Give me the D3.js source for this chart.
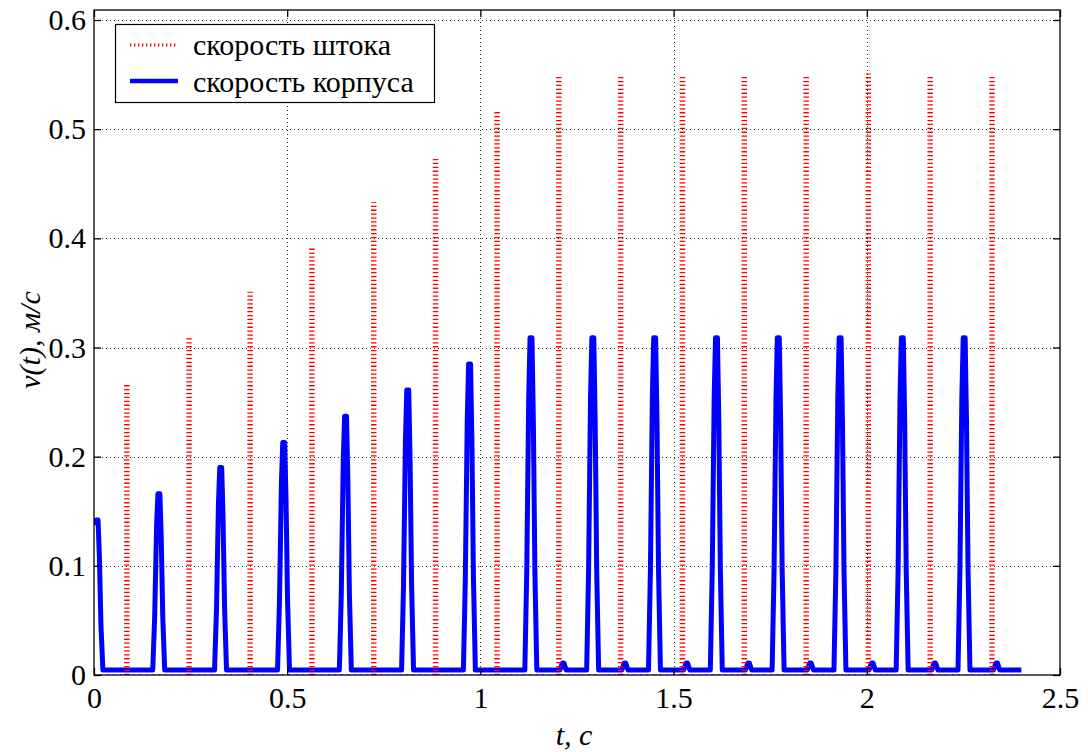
<!DOCTYPE html>
<html><head><meta charset="utf-8">
<script src="https://cdn.jsdelivr.net/npm/d3@7"></script>
<style>body{margin:0;background:#fff;} svg{display:block;} text{font-family:"Liberation Serif","Times New Roman",serif;}</style>
</head><body>
<svg id="chart" width="1088" height="752" font-family="Liberation Serif, serif"></svg>
<script>
// ---- data ----
const xTicks = [0, 0.5, 1, 1.5, 2, 2.5];
const xTickLabels = ["0", "0.5", "1", "1.5", "2", "2.5"];
const yTicks = [0, 0.1, 0.2, 0.3, 0.4, 0.5, 0.6];
const yTickLabels = ["0", "0.1", "0.2", "0.3", "0.4", "0.5", "0.6"];
const seriesNames = ["скорость штока", "скорость корпуса"];
// rod velocity spikes (red dotted)
const rodSpikeT = [0.085, 0.246, 0.404, 0.564, 0.724, 0.884, 1.043, 1.203, 1.363, 1.523, 1.683, 1.843, 2.004, 2.164, 2.324];
const rodSpikeV = [0.268, 0.309, 0.351, 0.392, 0.433, 0.474, 0.517, 0.550, 0.550, 0.550, 0.550, 0.550, 0.551, 0.550, 0.550];
const rodBase = 0;
// body velocity pulses (blue solid)
const bodyPulseT = [0.008, 0.168, 0.328, 0.491, 0.651, 0.812, 0.972, 1.131, 1.291, 1.451, 1.611, 1.771, 1.931, 2.092, 2.252];
const bodyPulseV = [0.142, 0.166, 0.190, 0.213, 0.237, 0.261, 0.285, 0.309, 0.309, 0.309, 0.309, 0.309, 0.309, 0.309, 0.309];
const bodyBumpT = [1.214, 1.374, 1.534, 1.694, 1.854, 2.014, 2.176, 2.336];
const bodyBumpV = [0.011, 0.011, 0.011, 0.011, 0.011, 0.011, 0.011, 0.011];
const bodyBase = 0.0045;
const tEnd = 2.4;

// ---- layout ----
const svg = d3.select("#chart");
const L = 94, R = 1060, T = 10, B = 675;
const x = d3.scaleLinear().domain([0, 2.5]).range([L, R]);
const y = d3.scaleLinear().domain([0, 0.6]).range([B, 20]);
const fontFam = "Liberation Serif";

svg.append("defs").append("clipPath").attr("id", "clip")
  .append("rect").attr("x", L).attr("y", T).attr("width", R - L).attr("height", B - T);

// grid
const grid = svg.append("g");
xTicks.slice(1, -1).forEach(t => {
  grid.append("line").attr("x1", Math.round(x(t)) + 0.5).attr("x2", Math.round(x(t)) + 0.5).attr("y1", T).attr("y2", B)
    .attr("stroke", "#333").attr("stroke-width", 1).attr("stroke-dasharray", "1,3");
});
yTicks.slice(1).forEach(v => {
  grid.append("line").attr("x1", L).attr("x2", R).attr("y1", Math.round(y(v)) + 0.5).attr("y2", Math.round(y(v)) + 0.5)
    .attr("stroke", "#333").attr("stroke-width", 1).attr("stroke-dasharray", "1,3");
});

// body series
const shapeDt = [-0.016, -0.011, -0.006, -0.0025, 0.0025, 0.006, 0.010, 0.015];
const shapeF = [0, 0.30, 0.82, 1, 1, 0.75, 0.30, 0];
let bodyEvents = [];
bodyPulseT.forEach((t, i) => bodyEvents.push({t, v: bodyPulseV[i], kind: "p"}));
bodyBumpT.forEach((t, i) => bodyEvents.push({t, v: bodyBumpV[i], kind: "b"}));
bodyEvents.sort((a, b) => a.t - b.t);
const bodyPts = [];
bodyEvents.forEach(e => {
  if (e.kind === "p") {
    if (e.t + shapeDt[0] < 0) bodyPts.push([0, e.v * 0.97]);
    shapeDt.forEach((d, j) => {
      const tt = e.t + d;
      const vv = bodyBase + (e.v - bodyBase) * shapeF[j];
      if (tt >= 0.003) bodyPts.push([tt, vv]);
    });
  } else {
    bodyPts.push([e.t - 0.008, bodyBase], [e.t - 0.002, e.v], [e.t + 0.002, e.v], [e.t + 0.008, bodyBase]);
  }
});
bodyPts.push([tEnd, bodyBase]);

const line = d3.line().x(d => x(d[0])).y(d => y(d[1]));
const plot = svg.append("g").attr("clip-path", "url(#clip)");
// red baseline (dotted, mostly hidden beneath blue)
plot.append("path").datum([[0, rodBase], [tEnd, rodBase]]).attr("d", line)
  .attr("fill", "none").attr("stroke", "#ff0000").attr("stroke-width", 1.5).attr("stroke-dasharray", "1.5,5");
plot.append("path").datum(bodyPts).attr("d", line)
  .attr("fill", "none").attr("stroke", "#0000ff").attr("stroke-width", 5).attr("stroke-linejoin", "round");
// red spikes: dense oscillation drawn as dotted columns
plot.selectAll("line.rod").data(rodSpikeT).join("line").attr("class", "rod")
  .attr("x1", d => x(d)).attr("x2", d => x(d))
  .attr("y1", y(rodBase)).attr("y2", (d, i) => y(rodSpikeV[i]))
  .attr("stroke", "#ff0000").attr("stroke-width", 5.5).attr("stroke-dasharray", "1.3,2.6");

// box
svg.append("rect").attr("x", L).attr("y", T).attr("width", R - L).attr("height", B - T)
  .attr("fill", "none").attr("stroke", "#000").attr("stroke-width", 1.3);

// axes (inward ticks on all sides)
const xAxB = d3.axisBottom(x).tickValues(xTicks).tickFormat((d, i) => xTickLabels[i]).tickSizeInner(-7).tickSizeOuter(0).tickPadding(12);
const xAxT = d3.axisTop(x).tickValues(xTicks).tickFormat("").tickSizeInner(-7).tickSizeOuter(0);
const yAxL = d3.axisLeft(y).tickValues(yTicks).tickFormat((d, i) => yTickLabels[i]).tickSizeInner(-7).tickSizeOuter(0).tickPadding(8);
const yAxR = d3.axisRight(y).tickValues(yTicks).tickFormat("").tickSizeInner(-7).tickSizeOuter(0);
[
  svg.append("g").attr("transform", `translate(0,${B})`).call(xAxB),
  svg.append("g").attr("transform", `translate(0,${T})`).call(xAxT),
  svg.append("g").attr("transform", `translate(${L},0)`).call(yAxL),
  svg.append("g").attr("transform", `translate(${R},0)`).call(yAxR)
].forEach(g => {
  g.attr("font-family", fontFam).attr("font-size", 30);
  g.select(".domain").remove();
  g.selectAll("line").attr("stroke", "#000").attr("stroke-width", 1.3);
  g.selectAll("text").attr("font-family", fontFam).attr("font-size", 30).attr("fill", "#000");
});

// axis titles
svg.append("text").attr("x", 574).attr("y", 745).attr("text-anchor", "middle")
  .attr("font-family", fontFam).attr("font-size", 30).attr("font-style", "italic").text("t, с");
svg.append("text").attr("transform", "translate(40,340) rotate(-90)").attr("text-anchor", "middle")
  .attr("font-family", fontFam).attr("font-size", 30).attr("font-style", "italic").text("v(t), м/с");

// legend
const lg = svg.append("g");
lg.append("rect").attr("x", 115.5).attr("y", 24.5).attr("width", 319).attr("height", 78)
  .attr("fill", "#fff").attr("stroke", "#000").attr("stroke-width", 1.2);
lg.append("line").attr("x1", 130).attr("x2", 178).attr("y1", 45).attr("y2", 45)
  .attr("stroke", "#ff0000").attr("stroke-width", 3).attr("stroke-dasharray", "1.3,2.7");
lg.append("line").attr("x1", 130).attr("x2", 178).attr("y1", 81).attr("y2", 81)
  .attr("stroke", "#0000ff").attr("stroke-width", 4.5);
lg.append("text").attr("x", 193).attr("y", 55).attr("font-family", fontFam).attr("font-size", 30).text(seriesNames[0]);
lg.append("text").attr("x", 193).attr("y", 92).attr("font-family", fontFam).attr("font-size", 30).text(seriesNames[1]);
</script>
</body></html>
